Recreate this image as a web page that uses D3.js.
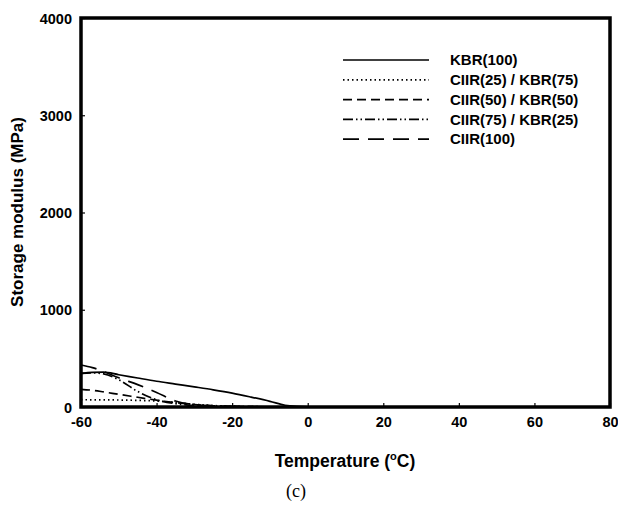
<!DOCTYPE html>
<html>
<head>
<meta charset="utf-8">
<script src="https://cdn.jsdelivr.net/npm/d3@7"></script>
<style>
  body { margin: 0; background: #fff; }
  text { font-family: Arial, "Liberation Sans", sans-serif; }
</style>
</head>
<body>
<div id="chart"></div>
<script>
// temperatures (°C) where each curve was read
const temps = [-60, -57, -54, -50, -45, -40, -35, -30, -25, -20, -15, -10, -6, -3, 0, 20, 40, 60, 80];

// storage modulus (MPa) per blend
const kbr100   = [345, 356, 358, 332, 298, 265, 236, 207, 177, 143, 102, 58, 18, 6, 2, 1, 1, 1, 1];
const ciir25   = [75, 74, 73, 72, 68, 62, 45, 28, 15, 8, 4, 2, 1, 1, 1, 1, 1, 1, 1];
const ciir50   = [182, 172, 155, 130, 100, 70, 45, 25, 12, 6, 3, 2, 1, 1, 1, 1, 1, 1, 1];
const ciir75   = [345, 352, 340, 280, 160, 75, 35, 15, 6, 3, 2, 1, 1, 1, 1, 1, 1, 1, 1];
const ciir100  = [432, 405, 365, 300, 230, 150, 62, 25, 12, 6, 3, 2, 1, 1, 1, 1, 1, 1, 1];

const seriesNames = ["KBR(100)", "CIIR(25) / KBR(75)", "CIIR(50) / KBR(50)", "CIIR(75) / KBR(25)", "CIIR(100)"];
const seriesValues = [kbr100, ciir25, ciir50, ciir75, ciir100];
const dashes = [null, "1.5,3", "9,5", "10,3,1.5,3,1.5,3", "16,9"];

const xTicks = [-60, -40, -20, 0, 20, 40, 60, 80];
const yTicks = [0, 1000, 2000, 3000, 4000];

const W = 618, H = 506;
const margin = { top: 18, right: 8, bottom: 99, left: 81 };
const width = W - margin.left - margin.right;
const height = H - margin.top - margin.bottom;

const svg = d3.select("#chart").append("svg")
  .attr("width", W).attr("height", H);

const g = svg.append("g")
  .attr("transform", `translate(${margin.left},${margin.top})`);

const x = d3.scaleLinear().domain([-60, 80]).range([0, width]);
const y = d3.scaleLinear().domain([0, 4000]).range([height, 0]);

// axes with inward ticks
const xAxis = g.append("g")
  .attr("transform", `translate(0,${height})`)
  .call(d3.axisBottom(x).tickValues(xTicks).tickFormat(d => String(d))
    .tickSizeInner(-4).tickSizeOuter(0).tickPadding(10));
const yAxis = g.append("g")
  .call(d3.axisLeft(y).tickValues(yTicks).tickFormat(d => String(d))
    .tickSizeInner(-4).tickSizeOuter(0).tickPadding(9));

[xAxis, yAxis].forEach(a => {
  a.select(".domain").remove();
  a.selectAll("line").attr("stroke", "#000").attr("stroke-width", 1.2);
  a.selectAll("text")
    .attr("font-size", 14.5).attr("font-weight", "bold").attr("fill", "#000");
});
yAxis.selectAll("text").attr("dy", "0.35em");

// curves
const line = d3.line()
  .x((d, i) => x(temps[i]))
  .y(d => y(d))
  .curve(d3.curveMonotoneX);

seriesValues.forEach((vals, i) => {
  g.append("path")
    .datum(vals)
    .attr("fill", "none")
    .attr("stroke", "#000")
    .attr("stroke-width", 1.7)
    .attr("stroke-dasharray", dashes[i])
    .attr("d", line);
});

// frame
g.append("rect")
  .attr("x", 0).attr("y", 0)
  .attr("width", width).attr("height", height)
  .attr("fill", "none").attr("stroke", "#000").attr("stroke-width", 3.5);

// legend
const legend = svg.append("g").attr("transform", "translate(343,60)");
seriesNames.forEach((name, i) => {
  const row = legend.append("g").attr("transform", `translate(0,${i * 19.8})`);
  row.append("line")
    .attr("x1", 0).attr("x2", 86).attr("y1", 0).attr("y2", 0)
    .attr("stroke", "#000").attr("stroke-width", 1.7)
    .attr("stroke-dasharray", dashes[i]);
  row.append("text")
    .attr("x", 107).attr("y", 0).attr("dy", "0.35em")
    .attr("font-size", 15).attr("font-weight", "bold")
    .text(name);
});

// axis titles
const xt = svg.append("text")
  .attr("x", 345).attr("y", 467)
  .attr("text-anchor", "middle")
  .attr("font-size", 17.5).attr("font-weight", "bold");
xt.append("tspan").text("Temperature (");
xt.append("tspan").attr("font-size", 11).attr("dy", -7).text("o");
xt.append("tspan").attr("dy", 7).text("C)");

svg.append("text")
  .attr("transform", "translate(23,212) rotate(-90)")
  .attr("text-anchor", "middle")
  .attr("font-size", 17).attr("font-weight", "bold")
  .text("Storage modulus (MPa)");

svg.append("text")
  .attr("x", 296).attr("y", 497)
  .attr("text-anchor", "middle")
  .attr("font-size", 18)
  .style("font-family", "'Liberation Serif', 'Times New Roman', serif")
  .text("(c)");
</script>
</body>
</html>
